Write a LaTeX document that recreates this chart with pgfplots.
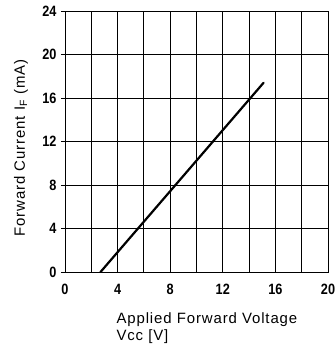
\documentclass[border=0pt]{standalone}
\usepackage{fontspec}
\setmainfont{Liberation Sans}
\newfontfamily\labelfont{Liberation Sans}[LetterSpace=6]
\newfontfamily\tickfont{Liberation Sans}[FakeStretch=0.85]
\usepackage{pgfplots}
\pgfplotsset{compat=1.18}
\begin{document}
\begin{tikzpicture}
\begin{axis}[
  scale only axis,
  width=263bp, height=261bp,
  xmin=0, xmax=20, ymin=0, ymax=24,
  xtick={0,4,...,20}, ytick={0,4,...,24},
  minor xtick={2,6,...,18},
  grid=both,
  major grid style={black, line width=0.9bp},
  minor grid style={black, line width=0.9bp},
  axis line style={black, line width=0.9bp},
  /pgf/number format/assume math mode=true,
  ticklabel style={font=\tickfont\bfseries\fontsize{15}{15}\selectfont},
  x tick style={draw=none},
  minor x tick style={draw=none},
  y tick style={black, line width=0.8bp},
  tick align=outside,
  major tick length=4bp,
  ytick pos=left,
  xtick pos=bottom,
  xticklabel style={yshift=-5bp},
  yticklabel style={xshift=-1bp},
  clip=false,
]
\addplot[black, line width=2.2bp, line cap=round] coordinates {(2.7,0) (15.1,17.4)};
\coordinate (sw) at (rel axis cs:0,0);
\coordinate (ne) at (rel axis cs:1,1);
\node[anchor=base west, align=left, font=\labelfont\fontsize{15}{17}\selectfont]
  at ([xshift=48bp,yshift=-68bp]rel axis cs:0,0) {Applied Forward Voltage\\Vcc [V]};
\node[rotate=90, anchor=center, font=\labelfont\fontsize{15}{17}\selectfont]
  at ([xshift=-44bp]rel axis cs:0,0.475) {Forward Current I\textsubscript{F} (mA)};
\end{axis}
\pgfresetboundingbox
\path[use as bounding box] ([xshift=-65bp,yshift=-73bp]sw) rectangle ([xshift=7bp,yshift=11bp]ne);
\end{tikzpicture}
\end{document}
